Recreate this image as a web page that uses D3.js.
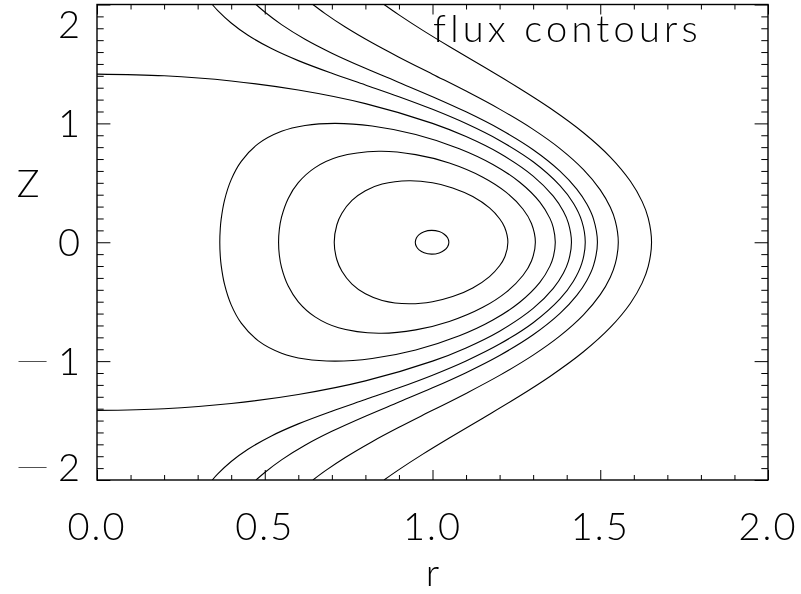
<!DOCTYPE html>
<html>
<head>
<meta charset="utf-8">
<script src="https://cdn.jsdelivr.net/npm/d3@7"></script>
<style>
  body { margin: 0; background: #fff; }
  svg { will-change: transform; }
  text { font-family: Lato, "DejaVu Sans", sans-serif; font-weight: 300; fill: #000; }
</style>
</head>
<body>
<svg id="chart" width="801" height="594"></svg>
<script>
// ---------------- data ----------------
const title = "flux contours";
const xLabel = "r";
const yLabel = "Z";
const xDomain = [0, 2];
const yDomain = [-2, 2];
const xMajorTicks = [0, 0.5, 1.0, 1.5, 2.0];
const xTickLabels = ["0.0", "0.5", "1.0", "1.5", "2.0"];
const yMajorTicks = [-2, -1, 0, 1, 2];
const yTickLabels = ["\u22122", "\u22121", "0", "1", "2"];
const minorStep = 0.1;

// contour lines as [r, Z] points, one array per flux level
const contourLevels = [0.01, 0.25, 0.5, 0.75, 1.0, 1.25, 1.5, 2.0, 3.0];
const closedContours = [true, true, true, true, false, false, false, false, false];

const contour1 = [[0.9487,0],[0.952,0.0367],[0.96,0.0647],[0.975,0.0892],[0.9975,0.1001],[1.02,0.0897],[1.035,0.0678],[1.045,0.0375],[1.0488,0],
  [1.045,-0.0375],[1.035,-0.0678],[1.02,-0.0897],[0.9975,-0.1001],[0.975,-0.0892],[0.96,-0.0647],[0.952,-0.0367]];

const contour2 = [[0.7071,0],[0.715,0.1473],[0.73,0.2444],[0.76,0.352],[0.80,0.4337],[0.85,0.4893],[0.93,0.5176],[1.0,0.5],[1.06,0.4571],[1.12,0.3843],[1.17,0.2885],[1.20,0.1979],[1.215,0.1266],[1.2247,0],
  [1.215,-0.1266],[1.20,-0.1979],[1.17,-0.2885],[1.12,-0.3843],[1.06,-0.4571],[1.0,-0.5],[0.93,-0.5176],[0.85,-0.4893],[0.80,-0.4337],[0.76,-0.352],[0.73,-0.2444],[0.715,-0.1473]];

const contour3 = [[0.5412,0],[0.5435,0.1092],[0.55,0.2112],[0.57,0.369],[0.60,0.5011],[0.65,0.6277],[0.72,0.7191],[0.84,0.7654],[0.95,0.7372],[1.05,0.6663],[1.15,0.5472],[1.22,0.4193],[1.27,0.2777],[1.295,0.1576],[1.3066,0],
  [1.295,-0.1576],[1.27,-0.2777],[1.22,-0.4193],[1.15,-0.5472],[1.05,-0.6663],[0.95,-0.7372],[0.84,-0.7654],[0.72,-0.7191],[0.65,-0.6277],[0.60,-0.5011],[0.57,-0.369],[0.55,-0.2112],[0.5435,-0.1092]];

const contour4 = [[0.366,0],[0.3675,0.118],[0.37,0.1922],[0.38,0.3526],[0.40,0.5268],[0.43,0.6804],[0.48,0.8274],[0.55,0.9333],[0.62,0.9825],[0.71,1.0],[0.82,0.9777],[0.95,0.9058],[1.08,0.7869],[1.18,0.6543],[1.26,0.5049],[1.32,0.3378],[1.35,0.2008],[1.36,0.1234],[1.366,0],
  [1.36,-0.1234],[1.35,-0.2008],[1.32,-0.3378],[1.26,-0.5049],[1.18,-0.6543],[1.08,-0.7869],[0.95,-0.9058],[0.82,-0.9777],[0.71,-1.0],[0.62,-0.9825],[0.55,-0.9333],[0.48,-0.8274],[0.43,-0.6804],[0.40,-0.5268],[0.38,-0.3526],[0.37,-0.1922],[0.3675,-0.118]];

const contour5 = [[0,1.4142],[0.2,1.4],[0.4,1.3565],[0.6,1.2806],[0.8,1.1662],[1.0,1.0],[1.1,0.8888],[1.2,0.7483],[1.3,0.5568],[1.36,0.3878],[1.39,0.2606],[1.405,0.1611],[1.4142,0],
  [1.405,-0.1611],[1.39,-0.2606],[1.36,-0.3878],[1.3,-0.5568],[1.2,-0.7483],[1.1,-0.8888],[1.0,-1.0],[0.8,-1.1662],[0.6,-1.2806],[0.4,-1.3565],[0.2,-1.4],[0,-1.4142]];

const contour6 = [[0.3436,2.0],[0.36,1.949],[0.40,1.8446],[0.45,1.7413],[0.52,1.6292],[0.60,1.5279],[0.70,1.4213],[0.80,1.3231],[0.90,1.2242],[1.0,1.118],[1.1,0.9983],[1.2,0.8565],[1.3,0.6767],[1.38,0.4763],[1.42,0.328],[1.445,0.1781],[1.4553,0],
  [1.445,-0.1781],[1.42,-0.328],[1.38,-0.4763],[1.3,-0.6767],[1.2,-0.8565],[1.1,-0.9983],[1.0,-1.118],[0.90,-1.2242],[0.80,-1.3231],[0.70,-1.4213],[0.60,-1.5279],[0.52,-1.6292],[0.45,-1.7413],[0.40,-1.8446],[0.36,-1.949],[0.3436,-2.0]];

const contour7 = [[0.474,2.0],[0.50,1.9365],[0.55,1.8304],[0.62,1.7077],[0.70,1.5907],[0.80,1.4633],[0.90,1.3444],[1.0,1.2247],[1.1,1.0969],[1.2,0.9525],[1.3,0.7784],[1.38,0.5985],[1.43,0.4468],[1.46,0.3209],[1.48,0.1946],[1.4916,0],
  [1.48,-0.1946],[1.46,-0.3209],[1.43,-0.4468],[1.38,-0.5985],[1.3,-0.7784],[1.2,-0.9525],[1.1,-1.0969],[1.0,-1.2247],[0.90,-1.3444],[0.80,-1.4633],[0.70,-1.5907],[0.62,-1.7077],[0.55,-1.8304],[0.50,-1.9365],[0.474,-2.0]];

const contour8 = [[0.6436,2.0],[0.68,1.9236],[0.74,1.8107],[0.82,1.6777],[0.90,1.5571],[1.0,1.4142],[1.1,1.2714],[1.2,1.12],[1.3,0.9496],[1.38,0.7879],[1.45,0.6108],[1.50,0.441],[1.53,0.2937],[1.545,0.1786],[1.5538,0],
  [1.545,-0.1786],[1.53,-0.2937],[1.50,-0.441],[1.45,-0.6108],[1.38,-0.7879],[1.3,-0.9496],[1.2,-1.12],[1.1,-1.2714],[1.0,-1.4142],[0.90,-1.5571],[0.82,-1.6777],[0.74,-1.8107],[0.68,-1.9236],[0.6436,-2.0]];

const contour9 = [[0.8556,2.0],[0.90,1.9129],[0.97,1.7846],[1.05,1.6467],[1.15,1.4798],[1.25,1.3105],[1.35,1.1291],[1.45,0.9213],[1.53,0.7166],[1.59,0.5128],[1.625,0.3418],[1.643,0.2037],[1.6529,0],
  [1.643,-0.2037],[1.625,-0.3418],[1.59,-0.5128],[1.53,-0.7166],[1.45,-0.9213],[1.35,-1.1291],[1.25,-1.3105],[1.15,-1.4798],[1.05,-1.6467],[0.97,-1.7846],[0.90,-1.9129],[0.8556,-2.0]];

const contours = [contour1, contour2, contour3, contour4, contour5, contour6, contour7, contour8, contour9];

// ---------------- drawing ----------------
const plot = { left: 97, right: 768, top: 4.5, bottom: 480 };
const svg = d3.select("#chart");

const x = d3.scaleLinear().domain(xDomain).range([plot.left, plot.right]);
const y = d3.scaleLinear().domain(yDomain).range([plot.bottom, plot.top]);

svg.append("defs").append("clipPath").attr("id", "clip")
  .append("rect")
  .attr("x", plot.left).attr("y", plot.top)
  .attr("width", plot.right - plot.left).attr("height", plot.bottom - plot.top);

// contours
const gC = svg.append("g").attr("clip-path", "url(#clip)");
contours.forEach((pts, i) => {
  const line = d3.line()
    .x(d => x(d[0])).y(d => y(d[1]))
    .curve(closedContours[i] ? d3.curveCatmullRomClosed.alpha(0.5) : d3.curveCatmullRom.alpha(0.5));
  gC.append("path")
    .attr("d", line(pts))
    .attr("fill", "none")
    .attr("stroke", "#000")
    .attr("stroke-width", 1.1);
});

// ticks
const xMinor = d3.range(xDomain[0], xDomain[1] + 1e-9, minorStep).filter(v => !xMajorTicks.some(m => Math.abs(m - v) < 1e-6));
const yMinor = d3.range(yDomain[0], yDomain[1] + 1e-9, minorStep).filter(v => !yMajorTicks.some(m => Math.abs(m - v) < 1e-6));

function styleAxis(g) {
  g.select(".domain").remove();
  g.selectAll("line").attr("stroke", "#000").attr("stroke-width", 1);
  g.selectAll("text").remove();
}
const xMajLen = 10, xMinLen = 5, yMajLen = 13.4, yMinLen = 6.7;

svg.append("g").attr("transform", `translate(0,${plot.bottom})`)
  .call(d3.axisBottom(x).tickValues(xMajorTicks).tickSize(-xMajLen).tickSizeOuter(0)).call(styleAxis);
svg.append("g").attr("transform", `translate(0,${plot.bottom})`)
  .call(d3.axisBottom(x).tickValues(xMinor).tickSize(-xMinLen).tickSizeOuter(0)).call(styleAxis);
svg.append("g").attr("transform", `translate(0,${plot.top})`)
  .call(d3.axisTop(x).tickValues(xMajorTicks).tickSize(-xMajLen).tickSizeOuter(0)).call(styleAxis);
svg.append("g").attr("transform", `translate(0,${plot.top})`)
  .call(d3.axisTop(x).tickValues(xMinor).tickSize(-xMinLen).tickSizeOuter(0)).call(styleAxis);

svg.append("g").attr("transform", `translate(${plot.left},0)`)
  .call(d3.axisLeft(y).tickValues(yMajorTicks).tickSize(-yMajLen).tickSizeOuter(0)).call(styleAxis);
svg.append("g").attr("transform", `translate(${plot.left},0)`)
  .call(d3.axisLeft(y).tickValues(yMinor).tickSize(-yMinLen).tickSizeOuter(0)).call(styleAxis);
svg.append("g").attr("transform", `translate(${plot.right},0)`)
  .call(d3.axisRight(y).tickValues(yMajorTicks).tickSize(-yMajLen).tickSizeOuter(0)).call(styleAxis);
svg.append("g").attr("transform", `translate(${plot.right},0)`)
  .call(d3.axisRight(y).tickValues(yMinor).tickSize(-yMinLen).tickSizeOuter(0)).call(styleAxis);

// frame
svg.append("rect")
  .attr("x", plot.left).attr("y", plot.top)
  .attr("width", plot.right - plot.left).attr("height", plot.bottom - plot.top)
  .attr("fill", "none").attr("stroke", "#000").attr("stroke-width", 1.4);

// tick labels
const fs = 38;
svg.append("g").selectAll("text").data(xMajorTicks).join("text")
  .attr("x", d => x(d)).attr("y", 540)
  .attr("text-anchor", "middle").attr("font-size", fs).attr("letter-spacing", 2)
  .text((d, i) => xTickLabels[i]);

const yLab = svg.append("g").selectAll("text").data(yMajorTicks).join("text")
  .attr("x", 80)
  .attr("y", d => Math.min(Math.max(y(d) + 14, 38), 481))
  .attr("text-anchor", "end").attr("font-size", fs);
yLab.each(function(d, i) {
  const t = d3.select(this);
  const s = yTickLabels[i];
  if (s.startsWith("\u2212")) {
    t.append("tspan").attr("font-size", 70).attr("dy", 10).attr("font-weight", 200).text("\u2212");
    t.append("tspan").attr("dx", 5).attr("dy", -10).text(s.slice(1));
  } else {
    t.text(s);
  }
});

// axis titles
svg.append("text").attr("x", (plot.left + plot.right) / 2).attr("y", 585.5)
  .attr("text-anchor", "middle").attr("font-size", fs).text(xLabel);
svg.append("text").attr("x", 28).attr("y", 197)
  .attr("text-anchor", "middle").attr("font-size", fs).text(yLabel);

// title
svg.append("text").attr("x", 433).attr("y", 42)
  .attr("font-size", fs).attr("letter-spacing", 4.2).text(title);
</script>
</body>
</html>
